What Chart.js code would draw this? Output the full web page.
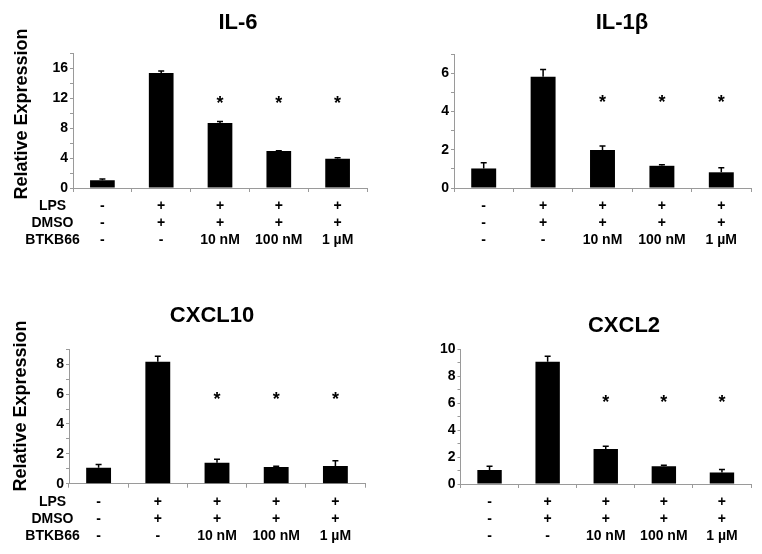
<!DOCTYPE html>
<html><head><meta charset="utf-8">
<script src="https://cdn.jsdelivr.net/npm/chart.js@4.4.0/dist/chart.umd.min.js"></script>
<style>
html,body{margin:0;padding:0;background:#fff;}
#wrap{position:relative;width:762px;height:554px;background:#fff;}
canvas{position:absolute;}
</style></head><body>
<div id="wrap">
<canvas id="c1" style="left:0px;top:0px" width="381" height="277"></canvas>
<canvas id="c2" style="left:381px;top:0px" width="381" height="277"></canvas>
<canvas id="c3" style="left:0px;top:277px" width="381" height="277"></canvas>
<canvas id="c4" style="left:381px;top:277px" width="381" height="277"></canvas>
</div>
<script>
// ---- data ----
const categories = ['Control', 'LPS', 'LPS + 10 nM', 'LPS + 100 nM', 'LPS + 1 µM'];
const rowNames = ['LPS', 'DMSO', 'BTKB66'];
const lpsRow = ['-', '+', '+', '+', '+'];
const dmsoRow = ['-', '+', '+', '+', '+'];
const btkRow = ['-', '-', '10 nM', '100 nM', '1 µM'];

const il6Values = [1.05, 15.4, 8.7, 4.95, 3.9];
const il6Errors = [0.15, 0.25, 0.2, 0.05, 0.15];
const il6Stars = [null, null, 12, 12, 12];

const il1bValues = [1.02, 5.81, 1.98, 1.16, 0.82];
const il1bErrors = [0.3, 0.38, 0.22, 0.06, 0.24];
const il1bStars = [null, null, 4.7, 4.7, 4.7];

const cxcl10Values = [1.06, 8.16, 1.4, 1.12, 1.19];
const cxcl10Errors = [0.22, 0.38, 0.24, 0.05, 0.34];
const cxcl10Stars = [null, null, 6.0, 6.0, 6.0];

const cxcl2Values = [1.04, 9.08, 2.6, 1.32, 0.85];
const cxcl2Errors = [0.28, 0.42, 0.2, 0.08, 0.22];
const cxcl2Stars = [null, null, 6.45, 6.45, 6.45];

const FONT = "'Liberation Sans', Arial, Helvetica, sans-serif";
const AXIS = '#9a9a9a';

const panels = [
  {id:'c1', title:'IL-6', values:il6Values, errors:il6Errors, stars:il6Stars,
   yMax:18, yStep:2, yLabelStep:4, L:73, R:367, T:53.5, B:188,
   titleX:238, titleY:22.5, rowNames:true, yTitleX:27, yTitleY:114},
  {id:'c2', title:'IL-1β', values:il1bValues, errors:il1bErrors, stars:il1bStars,
   yMax:7, yStep:1, yLabelStep:2, L:73, R:370, T:54, B:188,
   titleX:241, titleY:22.5, rowNames:false},
  {id:'c3', title:'CXCL10', values:cxcl10Values, errors:cxcl10Errors, stars:cxcl10Stars,
   yMax:9, yStep:1, yLabelStep:2, L:69, R:365, T:72.3, B:206.7,
   titleX:212, titleY:39.3, rowNames:true, yTitleX:26, yTitleY:129},
  {id:'c4', title:'CXCL2', values:cxcl2Values, errors:cxcl2Errors, stars:cxcl2Stars,
   yMax:10, yStep:1, yLabelStep:2, L:79.5, R:370, T:72.5, B:207,
   titleX:243, titleY:49.3, rowNames:false}
];

const tickLabels = categories.map((_, i) => [lpsRow[i], dmsoRow[i], btkRow[i]]);

const extrasPlugin = {
  id: 'extras',
  afterDatasetsDraw(chart) {
    const p = chart.options.plugins.extras;
    const ctx = chart.ctx;
    const y = chart.scales.y;
    const meta = chart.getDatasetMeta(0);
    ctx.save();
    // error bars (upper)
    ctx.strokeStyle = '#000';
    ctx.lineWidth = 1.5;
    meta.data.forEach((bar, i) => {
      const v = p.values[i], e = p.errors[i];
      if (!e) return;
      const y0 = y.getPixelForValue(v);
      const y1 = y.getPixelForValue(v + e);
      ctx.beginPath();
      ctx.moveTo(bar.x, y0);
      ctx.lineTo(bar.x, y1);
      ctx.moveTo(bar.x - 3, y1);
      ctx.lineTo(bar.x + 3, y1);
      ctx.stroke();
    });
    // significance stars
    ctx.fillStyle = '#000';
    ctx.font = 'bold 18px ' + FONT;
    ctx.textAlign = 'center';
    ctx.textBaseline = 'alphabetic';
    meta.data.forEach((bar, i) => {
      const s = p.stars[i];
      if (s == null) return;
      ctx.fillText('*', bar.x, y.getPixelForValue(s) + 0.58 * 18);
    });
    ctx.restore();
  },
  afterDraw(chart) {
    const p = chart.options.plugins.extras;
    const ctx = chart.ctx;
    ctx.save();
    ctx.fillStyle = '#000';
    // title
    ctx.font = 'bold 22px ' + FONT;
    ctx.textAlign = 'center';
    ctx.textBaseline = 'middle';
    ctx.fillText(p.title, p.titleX, p.titleY);
    if (p.rowNames) {
      // y axis title
      ctx.save();
      ctx.translate(p.yTitleX, p.yTitleY);
      ctx.rotate(-Math.PI / 2);
      ctx.font = 'bold 18px ' + FONT;
      ctx.textAlign = 'center';
      ctx.textBaseline = 'alphabetic';
      ctx.fillText('Relative Expression', 0, 0);
      ctx.restore();
      // row names
      ctx.font = 'bold 14px ' + FONT;
      ctx.textAlign = 'center';
      ctx.textBaseline = 'middle';
      const x = chart.scales.x;
      const firstY = x.top + 4 + 5.5 + 8.5;
      rowNames.forEach((n, k) => ctx.fillText(n, 52.5, firstY + k * 17));
    }
    ctx.restore();
  }
};

panels.forEach(p => {
  const xHeight = 62;
  new Chart(document.getElementById(p.id), {
    type: 'bar',
    data: {
      labels: tickLabels,
      datasets: [{
        data: p.values,
        backgroundColor: '#000',
        borderWidth: 0,
        barPercentage: 0.42,
        categoryPercentage: 1.0
      }]
    },
    options: {
      responsive: false,
      animation: false,
      events: [],
      layout: {padding: {left: 0, top: p.T, right: 381 - p.R, bottom: 277 - p.B - xHeight}},
      plugins: {
        legend: {display: false},
        tooltip: {enabled: false},
        title: {display: false},
        extras: p
      },
      scales: {
        x: {
          offset: true,
          border: {display: true, color: AXIS, width: 1},
          grid: {display: true, drawOnChartArea: false, drawTicks: true, tickLength: 4, color: AXIS, offset: true},
          ticks: {
            color: '#000', padding: 5.5, maxRotation: 0, autoSkip: false,
            font: {family: FONT, size: 14, weight: 'bold', lineHeight: '17px'}
          },
          afterFit: s => { s.height = xHeight; }
        },
        y: {
          min: 0, max: p.yMax,
          border: {display: true, color: AXIS, width: 1},
          grid: {display: true, drawOnChartArea: false, drawTicks: true, tickLength: 3, color: AXIS},
          ticks: {
            stepSize: p.yStep, autoSkip: false, color: '#000', padding: 2,
            font: {family: FONT, size: 14, weight: 'bold'},
            callback: v => (Math.round(v) % p.yLabelStep === 0 ? v : '')
          },
          afterFit: s => { s.width = p.L; }
        }
      }
    },
    plugins: [extrasPlugin]
  });
});
</script>
</body></html>
